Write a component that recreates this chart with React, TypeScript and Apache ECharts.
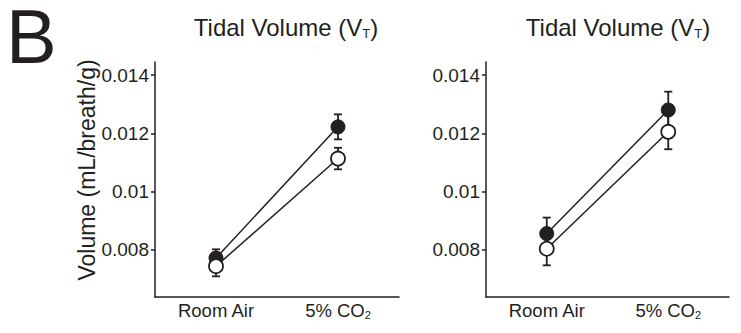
import React, { useEffect, useRef } from "react";
import * as echarts from "echarts";

const categories = ["Room Air", "5% CO2"];
const yTicks = [0.008, 0.01, 0.012, 0.014];

const leftFilledMean = [0.00771, 0.01222];
const leftFilledErr = [0.0003, 0.00043];
const leftOpenMean = [0.00743, 0.01113];
const leftOpenErr = [0.00035, 0.00037];

const rightFilledMean = [0.00855, 0.0128];
const rightFilledErr = [0.00055, 0.00063];
const rightOpenMean = [0.00803, 0.01205];
const rightOpenErr = [0.00057, 0.0006];

const INK = "#231f20";
const FONT = "Liberation Sans, Arial, sans-serif";

function errData(mean: number[], err: number[]) {
  return mean.map((m, i) => [i, m - err[i], m + err[i]]);
}

function errSeries(xi: number, mean: number[], err: number[]) {
  return {
    type: "custom",
    xAxisIndex: xi,
    yAxisIndex: xi,
    z: 1,
    silent: true,
    data: errData(mean, err),
    renderItem: (params: any, api: any) => {
      const x = api.value(0);
      const lo = api.coord([x, api.value(1)]);
      const hi = api.coord([x, api.value(2)]);
      const cw = 4;
      const st = { stroke: INK, lineWidth: 1.8 };
      return {
        type: "group",
        children: [
          { type: "line", shape: { x1: lo[0], y1: lo[1], x2: hi[0], y2: hi[1] }, style: st },
          { type: "line", shape: { x1: lo[0] - cw, y1: lo[1], x2: lo[0] + cw, y2: lo[1] }, style: st },
          { type: "line", shape: { x1: hi[0] - cw, y1: hi[1], x2: hi[0] + cw, y2: hi[1] }, style: st },
        ],
      };
    },
  };
}

function lineSeries(xi: number, mean: number[], filled: boolean) {
  return {
    type: "line",
    xAxisIndex: xi,
    yAxisIndex: xi,
    z: filled ? 2 : 3,
    data: mean,
    symbol: "circle",
    symbolSize: 14,
    showSymbol: true,
    lineStyle: { color: INK, width: 1.5 },
    itemStyle: filled
      ? { color: INK, borderColor: INK, borderWidth: 1 }
      : { color: "#ffffff", borderColor: INK, borderWidth: 1.8 },
    emphasis: { disabled: true },
  };
}

const xAxisBase = (gi: number) => ({
  type: "category",
  gridIndex: gi,
  data: categories,
  boundaryGap: true,
  axisLine: { onZero: false, lineStyle: { color: INK, width: 1.5 } },
  axisTick: { alignWithLabel: true, length: 4, lineStyle: { color: INK, width: 1.5 } },
  axisLabel: {
    interval: 0,
    hideOverlap: false,
    color: INK,
    fontFamily: FONT,
    fontSize: 18.5,
    margin: 3,
    formatter: (v: string) => {
      const k = v.indexOf("CO2");
      if (k < 0) return "{main|" + v + "}";
      return "{main|" + v.slice(0, k) + "CO}{sub|2}";
    },
    rich: {
      main: { fontSize: 18.5, fontFamily: FONT, color: INK, lineHeight: 20 },
      sub: { fontSize: 11, fontFamily: FONT, color: INK, verticalAlign: "bottom", lineHeight: 12, padding: [18, 0, 0, 0] },
    },
  },
  splitLine: { show: false },
});

const yAxisBase = (gi: number) => ({
  type: "value",
  gridIndex: gi,
  min: 0.00637,
  max: 0.01445,
  axisLine: { show: true, lineStyle: { color: INK, width: 1.5 } },
  axisTick: { show: true, length: 4, customValues: yTicks, lineStyle: { color: INK, width: 1.5 } },
  axisLabel: { color: INK, fontFamily: FONT, fontSize: 19, margin: 6, customValues: yTicks },
  splitLine: { show: false },
});

const titleText = "{main|Tidal Volume (V}{sub|T}{main|)}";
const titleStyle = {
  fontSize: 24,
  fontWeight: "normal",
  fontFamily: FONT,
  color: INK,
  rich: {
    main: { fontSize: 24, fontFamily: FONT, color: INK, lineHeight: 26 },
    sub: { fontSize: 13, fontFamily: FONT, color: INK, verticalAlign: "bottom", lineHeight: 14, padding: [22, 0, 0, 0] },
  },
};

export default function App() {
  const ref = useRef<HTMLDivElement>(null);
  useEffect(() => {
    if (!ref.current) return;
    const chart = echarts.init(ref.current, null, { renderer: "svg" });
    chart.setOption({
      animation: false,
      backgroundColor: "#ffffff",
      title: [
        { text: titleText, left: 281, top: 9, textAlign: "center", textStyle: titleStyle },
        { text: titleText, left: 613, top: 9, textAlign: "center", textStyle: titleStyle },
      ],
      grid: [
        { left: 155, top: 62, width: 244, height: 235, containLabel: false },
        { left: 486, top: 62, width: 243, height: 235, containLabel: false },
      ],
      xAxis: [xAxisBase(0), xAxisBase(1)],
      yAxis: [yAxisBase(0), yAxisBase(1)],
      graphic: [
        {
          type: "text",
          x: 6,
          y: 36.5,
          style: { text: "B", fontSize: 76, fontFamily: FONT, fill: INK, verticalAlign: "middle", lineHeight: 60 },
        },
        {
          type: "text",
          x: 87,
          y: 170,
          rotation: Math.PI / 2,
          style: {
            text: "Volume (mL/breath/g)",
            fontSize: 23,
            fontFamily: FONT,
            fill: INK,
            align: "center",
            verticalAlign: "middle",
          },
        },
      ],
      series: [
        errSeries(0, leftFilledMean, leftFilledErr),
        errSeries(0, leftOpenMean, leftOpenErr),
        lineSeries(0, leftFilledMean, true),
        lineSeries(0, leftOpenMean, false),
        errSeries(1, rightFilledMean, rightFilledErr),
        errSeries(1, rightOpenMean, rightOpenErr),
        lineSeries(1, rightFilledMean, true),
        lineSeries(1, rightOpenMean, false),
      ],
    });
    return () => chart.dispose();
  }, []);
  return (
    <div
      ref={ref}
      style={{ position: "absolute", left: 0, top: 0, width: 741, height: 333 }}
    />
  );
}
